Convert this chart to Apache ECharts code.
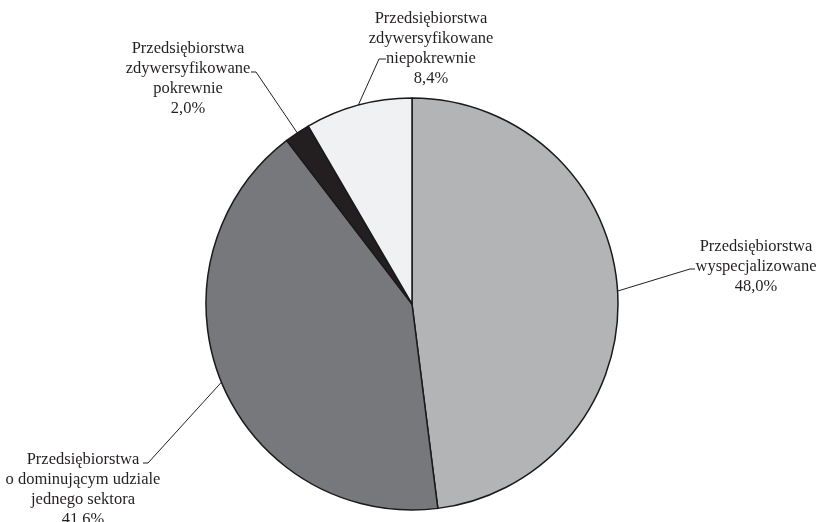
<!DOCTYPE html>
<html>
<head>
<meta charset="utf-8">
<title>Struktura przedsiębiorstw</title>
<script src="https://cdn.jsdelivr.net/npm/echarts@6/dist/echarts.min.js"></script>
<style>
  html, body { margin: 0; padding: 0; background: #ffffff; }
  #chart { width: 819px; height: 522px; }
</style>
</head>
<body>
<div id="chart"></div>
<script>
// Company types, their shares (%) and the printed share labels
const categories = [
  'Przedsiębiorstwa\nwyspecjalizowane',
  'Przedsiębiorstwa\no dominującym udziale\njednego sektora',
  'Przedsiębiorstwa\nzdywersyfikowane\npokrewnie',
  'Przedsiębiorstwa\nzdywersyfikowane\nniepokrewnie'
];
const shares = [48.0, 41.6, 2.0, 8.4];
const shareLabels = ['48,0%', '41.6%', '2,0%', '8,4%'];

// Slice fills
const sliceColors = ['#b3b4b6', '#77787b', '#231f20', '#f0f1f3'];

// Label block centres and where each leader line meets its text
// (relative to the block centre: end point and the short horizontal stub)
const labelPlacement = [
  { x: 756, y: 267, endDx: -61, endDy: 2,  stub: -5 },
  { x: 83,  y: 490, endDx: 60,  endDy: -27, stub: 5 },
  { x: 188, y: 79,  endDx: 63,  endDy: -7, stub: 5 },
  { x: 431, y: 49,  endDx: -45, endDy: 10, stub: -7 }
];

const chart = echarts.init(document.getElementById('chart'), null, { renderer: 'canvas' });

const seriesData = categories.map((name, i) => ({
  name: name,
  value: shares[i],
  itemStyle: { color: sliceColors[i] }
}));

chart.setOption({
  animation: false,
  backgroundColor: '#ffffff',
  series: [{
    type: 'pie',
    center: [412, 304],
    radius: 206,
    startAngle: 90,
    clockwise: true,
    avoidLabelOverlap: false,
    silent: true,
    data: seriesData,
    itemStyle: {
      borderColor: '#1a1a1a',
      borderWidth: 1.5
    },
    label: {
      show: true,
      position: 'outside',
      formatter: (p) => p.name + '\n' + shareLabels[p.dataIndex],
      fontFamily: '"Liberation Serif", "Times New Roman", serif',
      fontSize: 16.5,
      lineHeight: 20,
      color: '#231f20',
      align: 'center'
    },
    labelLine: {
      show: true,
      length: 20,
      length2: 10,
      lineStyle: { color: '#231f20', width: 1 }
    },
    labelLayout: (params) => {
      const p = labelPlacement[params.dataIndex];
      const anchor = params.labelLinePoints ? params.labelLinePoints[0] : [p.x, p.y];
      const endX = p.x + p.endDx;
      const endY = p.y + p.endDy;
      return {
        x: p.x,
        y: p.y,
        align: 'center',
        verticalAlign: 'middle',
        labelLinePoints: [anchor, [endX + p.stub, endY], [endX, endY]]
      };
    }
  }]
});
</script>
</body>
</html>
